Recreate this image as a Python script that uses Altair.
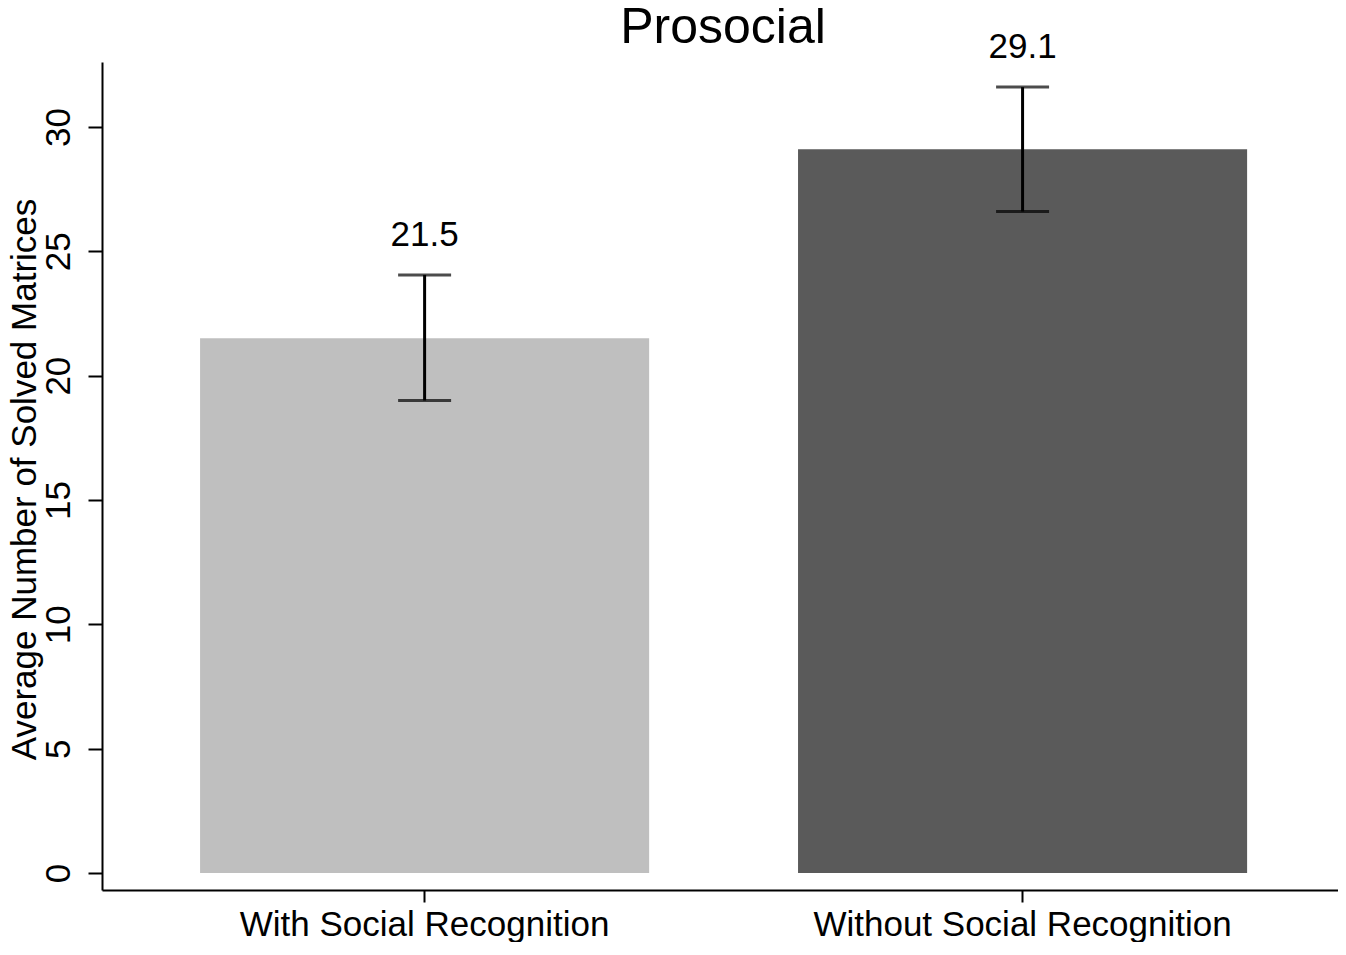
import altair as alt
import pandas as pd

chart_title = ["Prosocial"]
groups = ["With Social Recognition", "Without Social Recognition"]
means = [21.5, 29.1]
lower = [19.0, 26.6]
upper = [24.05, 31.6]
bar_colors = ["#bfbfbf", "#5a5a5a"]
y_ticks = [0, 5, 10, 15, 20, 25, 30]

df = pd.DataFrame({"group": groups, "mean": means, "lower": lower, "upper": upper})
title_df = pd.DataFrame({"title": chart_title})

FONT = "Liberation Sans"
YTITLE = "Average Number of Solved Matrices"

xscale = alt.Scale(paddingInner=0.249, paddingOuter=0.158, align=0.519)
yscale = alt.Scale(domain=[-0.68, 32.61], nice=False, zero=False)

xaxis = alt.Axis(labelAngle=0, labelFontSize=35, tickSize=12, labelPadding=5,
                 labelBaseline="top", labelFont=FONT, labelColor="black", labelLimit=0)
yaxis = alt.Axis(values=y_ticks, labelAngle=270, labelAlign="center",
                 labelBaseline="alphabetic", tickSize=14, labelPadding=19,
                 labelFontSize=35, labelFont=FONT, labelColor="black",
                 titleAngle=270, titleBaseline="alphabetic", titleAlign="center",
                 titleX=-67, titleY=417, titleFontSize=35, titleFont=FONT,
                 titleFontWeight="normal", titleColor="black")


def X():
    return alt.X("group:N", sort=groups, title=None, scale=xscale, axis=xaxis)


def Y(field):
    return alt.Y(field, scale=yscale, title=YTITLE, axis=yaxis)


base = alt.Chart(df)

bars = base.mark_bar().encode(
    x=X(),
    y=Y("mean:Q"),
    y2=alt.datum(0),
    color=alt.Color("group:N", scale=alt.Scale(domain=groups, range=bar_colors), legend=None),
)

rule = base.mark_rule(color="black", strokeWidth=3).encode(
    x=X(), y=Y("lower:Q"), y2="upper:Q"
)

cap_lo = base.mark_tick(color="black", size=53, thickness=3).encode(x=X(), y=Y("lower:Q"))
cap_hi = base.mark_tick(color="black", size=53, thickness=3).encode(x=X(), y=Y("upper:Q"))

labels = base.mark_text(fontSize=35, font=FONT, color="black", dy=-40, baseline="middle").encode(
    x=X(), y=Y("upper:Q"), text=alt.Text("mean:Q", format=".1f")
)

title_mark = alt.Chart(title_df).mark_text(
    fontSize=50, font=FONT, color="black", align="center", baseline="alphabetic"
).encode(x=alt.value(621), y=alt.value(-19), text="title:N")

chart = alt.layer(bars, rule, cap_lo, cap_hi, labels, title_mark).properties(
    width=1236,
    height=828,
    padding={"left": 94, "top": 54, "right": 0, "bottom": 52},
    autosize=alt.AutoSizeParams(type="none"),
    background="white",
).configure_view(stroke=None).configure_axis(
    grid=False, domainColor="black", domainWidth=2, tickColor="black", tickWidth=2
)

chart.save("out.html", embed_options={"renderer": "svg", "actions": False})
